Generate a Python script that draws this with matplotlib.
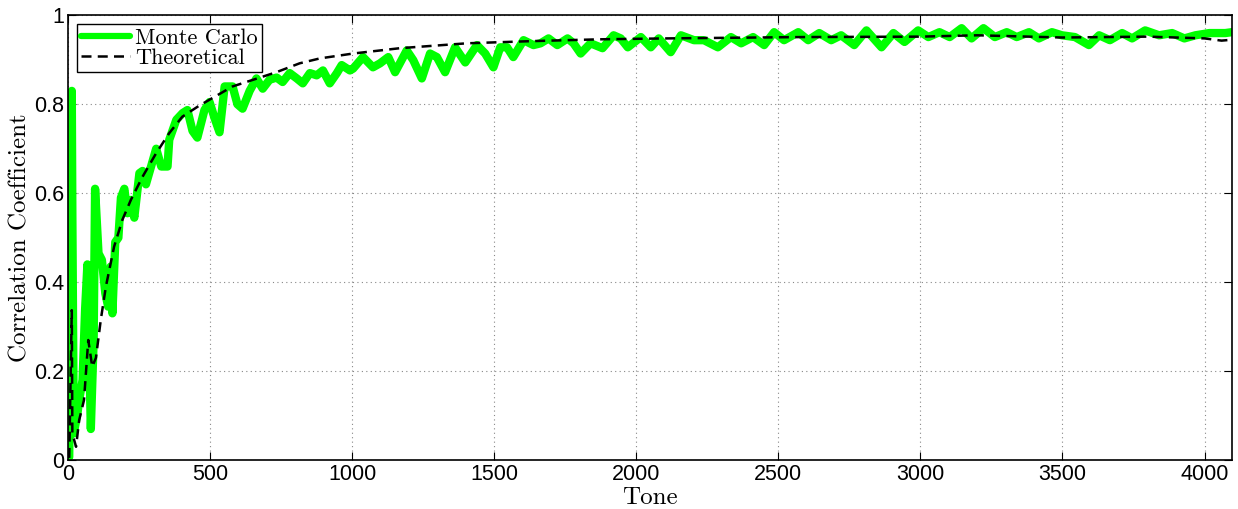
import numpy as np
import matplotlib
matplotlib.use("Agg")
import matplotlib.pyplot as plt

# Monte Carlo estimate of the correlation coefficient per tone
mc_tone = [4, 13, 15, 20, 33, 39, 51, 60, 68, 80, 90, 95, 107, 119, 131, 141, 150, 156,
           166, 177, 186, 198, 209, 221, 233, 251, 262, 274, 292, 310, 328, 350, 356,
           381, 403, 420, 438, 455, 480, 498, 515, 533, 551, 579, 596, 614, 639, 663,
           685, 709, 734, 755, 780, 805, 826, 851, 875, 897, 921, 946, 963, 992, 1003,
           1038, 1073, 1098, 1127, 1151, 1192, 1215, 1245, 1274, 1298, 1327, 1362, 1398,
           1439, 1468, 1497, 1521, 1545, 1567, 1603, 1638, 1663, 1691, 1722, 1758, 1779,
           1804, 1839, 1881, 1920, 1945, 1970, 2016, 2051, 2079, 2121, 2157, 2203, 2238,
           2287, 2333, 2369, 2411, 2450, 2485, 2520, 2570, 2605, 2644, 2686, 2721, 2767,
           2810, 2863, 2905, 2944, 2992, 3028, 3067, 3103, 3145, 3180, 3222, 3262, 3304,
           3339, 3382, 3417, 3463, 3498, 3544, 3593, 3629, 3667, 3710, 3745, 3791, 3840,
           3886, 3929, 3968, 4017, 4073, 4096]
mc_corr = [0.007, 0.83, 0.55, 0.06, 0.105, 0.135, 0.18, 0.34, 0.44, 0.07, 0.27, 0.61,
           0.465, 0.45, 0.375, 0.345, 0.435, 0.33, 0.49, 0.5, 0.59, 0.61, 0.555, 0.585,
           0.545, 0.645, 0.65, 0.62, 0.66, 0.70, 0.66, 0.66, 0.72, 0.765, 0.78, 0.787,
           0.74, 0.725, 0.787, 0.805, 0.77, 0.737, 0.84, 0.84, 0.80, 0.79, 0.83, 0.858,
           0.835, 0.855, 0.86, 0.85, 0.87, 0.858, 0.847, 0.87, 0.865, 0.876, 0.847, 0.87,
           0.888, 0.876, 0.88, 0.906, 0.883, 0.892, 0.906, 0.872, 0.921, 0.899, 0.858,
           0.914, 0.906, 0.872, 0.928, 0.894, 0.933, 0.914, 0.883, 0.928, 0.928, 0.906,
           0.944, 0.933, 0.937, 0.948, 0.933, 0.948, 0.937, 0.914, 0.937, 0.926, 0.955,
           0.948, 0.928, 0.951, 0.928, 0.948, 0.917, 0.955, 0.944, 0.944, 0.928, 0.951,
           0.937, 0.951, 0.933, 0.962, 0.944, 0.962, 0.944, 0.96, 0.944, 0.955, 0.933,
           0.966, 0.928, 0.96, 0.94, 0.966, 0.951, 0.962, 0.951, 0.971, 0.948, 0.971,
           0.951, 0.962, 0.951, 0.962, 0.948, 0.962, 0.955, 0.951, 0.933, 0.955, 0.944,
           0.96, 0.948, 0.966, 0.955, 0.96, 0.948, 0.955, 0.96, 0.96, 0.962]

# theoretical curve
th_tone = [4, 13, 15, 28, 39, 56, 71, 85, 98, 115, 133, 162, 191, 221, 262, 310, 356,
           402, 462, 579, 733, 815, 886, 1003, 1168, 1404, 1638, 1874, 2110, 2580, 3000,
           3200, 3500, 3800, 4000, 4060, 4096]
th_corr = [0.005, 0.337, 0.06, 0.03, 0.09, 0.135, 0.27, 0.21, 0.23, 0.315, 0.39, 0.48,
           0.54, 0.585, 0.637, 0.69, 0.735, 0.772, 0.797, 0.84, 0.872, 0.892, 0.903,
           0.914, 0.926, 0.937, 0.942, 0.946, 0.948, 0.951, 0.952, 0.955, 0.95, 0.952,
           0.948, 0.943, 0.945]

serif = "cmr10"

fig = plt.figure(figsize=(12.38, 5.09), dpi=100)
ax = fig.add_axes([0.055, 0.096, 0.94, 0.874])

ax.plot(mc_tone, mc_corr, color="#00ff00", lw=6, solid_joinstyle="round",
        solid_capstyle="round", label="Monte Carlo")
ax.plot(th_tone, th_corr, color="black", lw=1.8, ls=(0, (4, 2.5)),
        label="Theoretical")

ax.set_xlim(0, 4096)
ax.set_ylim(0, 1)
ax.set_xticks(np.arange(0, 4001, 500))
ax.set_yticks([0, 0.2, 0.4, 0.6, 0.8, 1])
ax.set_yticklabels(["0", "0.2", "0.4", "0.6", "0.8", "1"])
ax.grid(True, ls=(0, (1, 3)), color="#888888", lw=0.8)
ax.tick_params(direction="in", top=True, right=True, length=6, width=0.8,
               labelsize=15.5, pad=3)
for lab in ax.get_xticklabels() + ax.get_yticklabels():
    lab.set_family("Liberation Sans")
for s in ax.spines.values():
    s.set_linewidth(1.2)

ax.set_xlabel("Tone", fontname=serif, fontsize=18, labelpad=1)
ax.set_ylabel("Correlation Coefficient", fontname=serif, fontsize=18, labelpad=2)

leg = ax.legend(loc="upper left", prop={"family": serif, "size": 16},
                fancybox=False, edgecolor="black", framealpha=1,
                handlelength=2.2, handletextpad=0.2, borderpad=0.2,
                labelspacing=0.0, borderaxespad=0.4)
leg.get_frame().set_linewidth(1.0)
leg.get_lines()[0].set_linewidth(4.5)

fig.savefig("out.png", dpi=100)
